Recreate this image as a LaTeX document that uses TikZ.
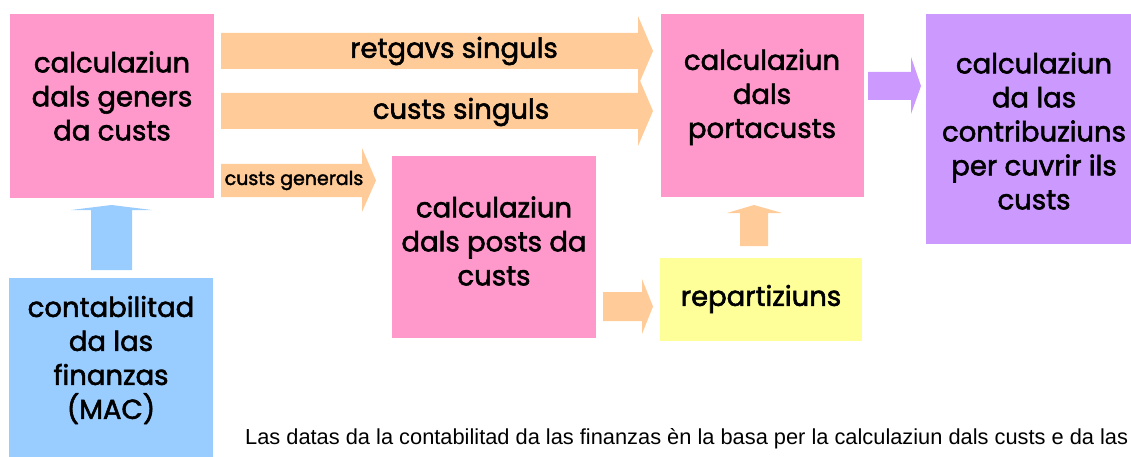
\documentclass[tikz,border=0pt]{standalone}
\usepackage{fontspec}
\usepackage{graphicx}
\setmainfont{Poppins}
\newfontfamily\medfont{Poppins}[FakeBold=2]
\newfontfamily\footfont{Liberation Sans}
\definecolor{cpink}{HTML}{FF99CC}
\definecolor{cblue}{HTML}{99CCFF}
\definecolor{corange}{HTML}{FFCC99}
\definecolor{cyellow}{HTML}{FFFF99}
\definecolor{cpurple}{HTML}{CC99FF}
\begin{document}
\begin{tikzpicture}[x=1pt,y=-1pt,
  box/.style={inner sep=0pt, outer sep=0pt, anchor=north west},
  lbl/.style={font=\medfont\fontsize{27.5}{34}\selectfont, align=center, inner sep=0pt},
  slbl/.style={font=\medfont\fontsize{19}{20}\selectfont, inner sep=0pt}]
\useasboundingbox (0,0) rectangle (1131,457);
% boxes
\node[box, fill=cpink, minimum width=204pt, minimum height=184pt] (gen) at (10,14) {};
\node[box, fill=cblue, minimum width=204pt, minimum height=179pt] (mac) at (9,278) {};
\node[box, fill=cpink, minimum width=204pt, minimum height=182pt] (posts) at (392,156) {};
\node[box, fill=cpink, minimum width=203pt, minimum height=183pt] (porta) at (661,14) {};
\node[box, fill=cyellow, minimum width=202pt, minimum height=83pt] (rep) at (660,258) {};
\node[box, fill=cpurple, minimum width=205pt, minimum height=230pt] (contr) at (926,14) {};
% block arrows
\fill[corange] (221,33) -- (638,33) -- (638,16) -- (653,51) -- (638,86) -- (638,69) -- (221,69) -- cycle;
\fill[corange] (221,93) -- (638,93) -- (638,76) -- (653,111) -- (638,146) -- (638,129) -- (221,129) -- cycle;
\fill[corange] (221,164) -- (362,164) -- (362,148) -- (376,180.5) -- (362,212) -- (362,197) -- (221,197) -- cycle;
\fill[cblue] (91,270) -- (91,210) -- (71,210) -- (111.5,205) -- (152,210) -- (132,210) -- (132,270) -- cycle;
\fill[corange] (740,246) -- (740,213) -- (727,213) -- (754,205) -- (782,213) -- (768,213) -- (768,246) -- cycle;
\fill[corange] (603,292) -- (642,292) -- (642,279) -- (653,306.5) -- (642,334) -- (642,321) -- (603,321) -- cycle;
\fill[cpurple] (868,72) -- (911,72) -- (911,57) -- (921,86) -- (911,114) -- (911,100) -- (868,100) -- cycle;
% texts
\node[lbl] (tgen) at (112,96) {calculaziun\\dals geners\\da custs};
\node[lbl] (tmac) at (111,360) {contabilitad\\da las\\finanzas\\(MAC)};
\node[lbl] (tposts) at (494,241) {calculaziun\\dals posts da\\custs};
\node[lbl] (tporta) at (762,97) {calculaziun\\dals\\portacusts};
\node[lbl] (trep) at (761,299) {repartiziuns};
\node[lbl] (tcontr) at (1034,131) {calculaziun\\da las\\contribuziuns\\per cuvrir ils\\custs};
\node[lbl] (tret) at (454,51) {retgavs singuls};
\node[lbl] (tcs) at (461,112) {custs singuls};
\node[slbl] (tcg) at (294,180.5) {custs generals};
\node[anchor=base west, inner sep=0pt] (foot) at (245,444) {\resizebox{883pt}{16pt}{\footfont Las datas da la contabilitad da las finanzas èn la basa per la calculaziun dals custs e da las}};
\end{tikzpicture}
\end{document}
